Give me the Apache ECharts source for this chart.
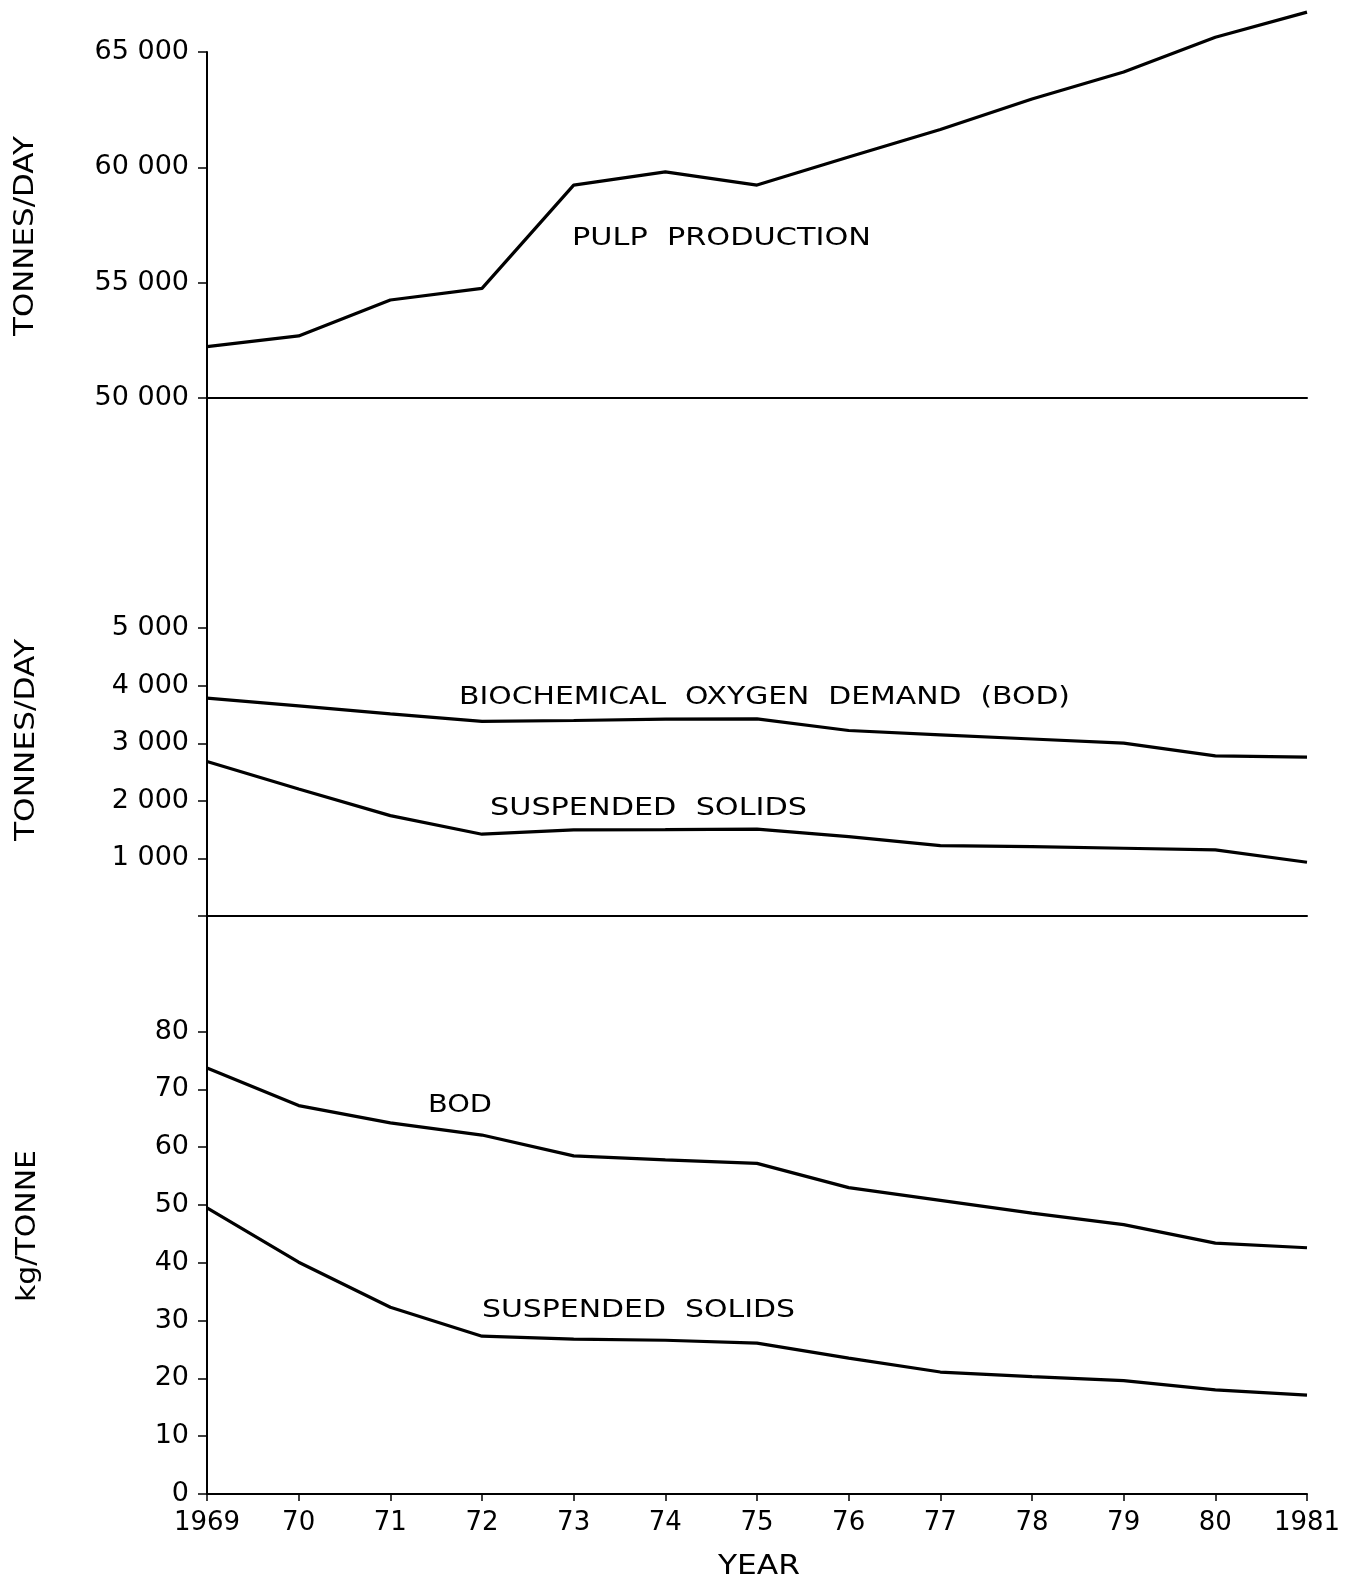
<!DOCTYPE html>
<html>
<head>
<meta charset="utf-8">
<script src="https://cdn.jsdelivr.net/npm/echarts@6/dist/echarts.min.js"></script>
<style>
html,body{margin:0;padding:0;background:#fff;}
#chart{width:1361px;height:1582px;}
</style>
</head>
<body>
<div id="chart"></div>
<script>
// ---- data ----
const years = [1969,1970,1971,1972,1973,1974,1975,1976,1977,1978,1979,1980,1981];
const yearLabels = ['1969','70','71','72','73','74','75','76','77','78','79','80','1981'];
const pulpProduction = [52230,52690,54250,54750,59230,59800,59230,60450,61640,62960,64130,65640,66730];
const bodTonnesPerDay = [3786,3650,3513,3380,3397,3420,3426,3223,3148,3075,3003,2783,2760];
const ssTonnesPerDay = [2684,2208,1744,1421,1496,1500,1508,1380,1223,1205,1177,1148,934];
const bodKgPerTonne = [73.7,67.2,64.2,62.1,58.5,57.8,57.2,53.0,50.8,48.6,46.6,43.4,42.6];
const ssKgPerTonne = [49.5,40.1,32.3,27.3,26.8,26.6,26.1,23.5,21.1,20.3,19.6,18.0,17.1];
const topTicks = [50000,55000,60000,65000];
const midTicks = [1000,2000,3000,4000,5000];
const botTicks = [0,10,20,30,40,50,60,70,80];

const FONT = '"DejaVu Sans", sans-serif';
function fmtThousands(v){
  if (v < 1000) return String(v);
  const s = String(v);
  return s.slice(0, s.length-3) + ' ' + s.slice(s.length-3);
}
function pairs(ys){ return years.map((y,i)=>[y, ys[i]]); }

const chart = echarts.init(document.getElementById('chart'), null, {renderer:'canvas'});

const L = 207, R = 54;
const grids = [
  {left:L, right:R, top:52, height:346},
  {left:L, right:R, top:398, height:518},
  {left:L, right:R, top:916, height:578}
];
const axisLineStyle = {color:'#000', width:2};

function xAxis(idx, showLabels){
  return {
    type:'value', gridIndex:idx, min:1969, max:1981, interval:1,
    axisLine:{show:true, onZero:false, lineStyle:axisLineStyle},
    axisTick:{show:showLabels, inside:false, length:7, lineStyle:{color:'#000', width:1.5}},
    axisLabel:{show:showLabels, margin:16, color:'#000', fontFamily:FONT, fontSize:26,
      formatter:(v)=>{ const i = years.indexOf(v); return i>=0 ? yearLabels[i] : ''; }},
    splitLine:{show:false}
  };
}
function yAxis(idx, min, max, interval, ticks){
  return {
    type:'value', gridIndex:idx, min:min, max:max, interval:interval,
    axisLine:{show:true, onZero:false, lineStyle:axisLineStyle},
    axisTick:{show:true, inside:false, length:9, customValues: idx===1 ? [0].concat(ticks) : ticks, lineStyle:{color:'#000', width:1.5}},
    axisLabel:{show:true, margin:18, color:'#000', fontFamily:FONT, fontSize:27, customValues:ticks,
      formatter:(v)=>fmtThousands(v)},
    splitLine:{show:false}
  };
}

function lineSeries(idx, data, name){
  return {
    type:'line', name:name, xAxisIndex:idx, yAxisIndex:idx, data:pairs(data),
    showSymbol:false, symbol:'none', clip:false, silent:true,
    lineStyle:{color:'#000', width:3.2}
  };
}

// text annotations with horizontal stretch to match the original lettering
const mctx = document.createElement('canvas').getContext('2d');
function stretchedText(text, size, left, right, cy){
  mctx.font = size + 'px ' + FONT;
  const w = mctx.measureText(text).width;
  const s = (right-left)/w;
  return {type:'text', x:left, y:cy, scaleX:s, silent:true,
    style:{text:text, font: size+'px '+FONT, fill:'#000', align:'left', verticalAlign:'middle'}};
}
function verticalText(text, size, cx, top, bottom){
  mctx.font = size + 'px ' + FONT;
  const w = mctx.measureText(text).width;
  const s = (bottom-top)/w;
  return {type:'text', x:cx, y:(top+bottom)/2, rotation:Math.PI/2, scaleX:s, silent:true,
    style:{text:text, font: size+'px '+FONT, fill:'#000', align:'center', verticalAlign:'middle'}};
}
function centeredText(text, size, left, right, cy){
  mctx.font = size + 'px ' + FONT;
  const w = mctx.measureText(text).width;
  const s = (right-left)/w;
  return {type:'text', x:(left+right)/2, y:cy, scaleX:s, silent:true,
    style:{text:text, font: size+'px '+FONT, fill:'#000', align:'center', verticalAlign:'middle'}};
}

const option = {
  backgroundColor:'#fff',
  animation:false,
  grid:grids,
  xAxis:[xAxis(0,false), xAxis(1,false), xAxis(2,true)],
  yAxis:[
    yAxis(0, 50000, 65000, 5000, topTicks),
    yAxis(1, 0, 9000, 1000, midTicks),
    yAxis(2, 0, 100, 10, botTicks)
  ],
  series:[
    lineSeries(0, pulpProduction, 'Pulp production'),
    lineSeries(1, bodTonnesPerDay, 'BOD (tonnes/day)'),
    lineSeries(1, ssTonnesPerDay, 'Suspended solids (tonnes/day)'),
    lineSeries(2, bodKgPerTonne, 'BOD (kg/tonne)'),
    lineSeries(2, ssKgPerTonne, 'Suspended solids (kg/tonne)')
  ],
  graphic:[
    stretchedText('PULP  PRODUCTION', 24, 572, 871, 239),
    stretchedText('BIOCHEMICAL  OXYGEN  DEMAND  (BOD)', 24, 459, 1070, 698),
    stretchedText('SUSPENDED  SOLIDS', 24, 490, 807, 809),
    stretchedText('BOD', 24, 428, 492, 1106),
    stretchedText('SUSPENDED  SOLIDS', 24, 482, 795, 1311),
    verticalText('TONNES/DAY', 27, 26, 136, 336),
    verticalText('TONNES/DAY', 27, 27, 639, 841),
    verticalText('kg/TONNE', 27, 28, 1150, 1302),
    centeredText('YEAR', 27, 718, 800, 1567)
  ]
};
chart.setOption(option);
</script>
</body>
</html>
